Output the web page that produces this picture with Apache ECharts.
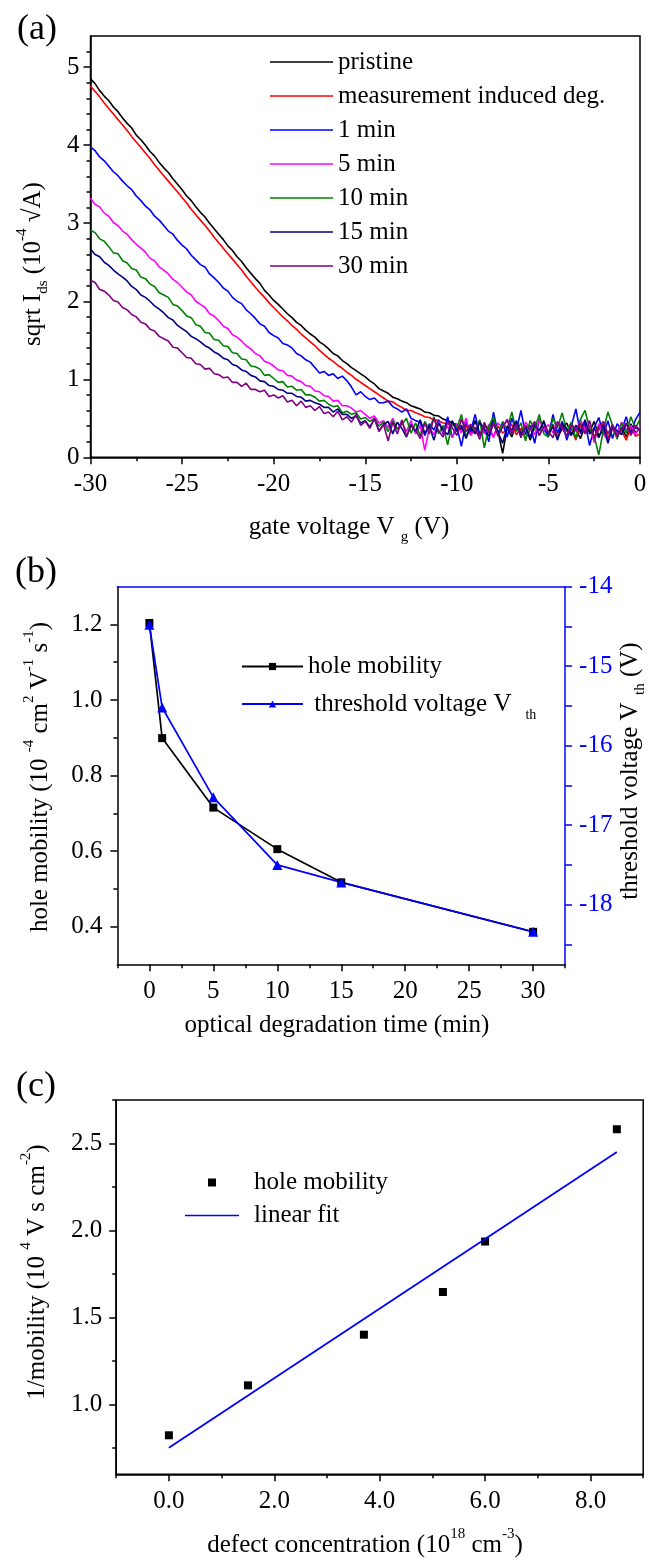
<!DOCTYPE html>
<html>
<head>
<meta charset="utf-8">
<script src="https://cdn.jsdelivr.net/npm/echarts@6.0.0/dist/echarts.min.js"></script>
<style>
html,body{margin:0;padding:0;background:#fff;}
#main{width:649px;height:1560px;}
</style>
</head>
<body>
<div id="main"></div>
<script>
var FONT = 'Liberation Serif';

// ---- panel (a): sqrt Ids vs gate voltage, sampled every 0.25 V from -30 V ----
var vgStart = -30, vgStep = 0.25;
var pristine = [
4.85,4.79,4.70,4.63, 4.57,4.49,4.43,4.35, 4.28,4.22,4.13,4.07, 4.00,3.92,3.86,3.78, 3.71,3.65,3.57,3.50,
3.43,3.35,3.29,3.21, 3.14,3.08,3.00,2.93, 2.86,2.79,2.71,2.65, 2.57,2.51,2.43,2.36, 2.29,2.23,2.14,2.08,
2.01,1.96,1.90,1.84, 1.79,1.73,1.69,1.63, 1.58,1.54,1.48,1.44, 1.39,1.33,1.30,1.24, 1.20,1.15,1.11,1.07,
1.03,0.98,0.94,0.88, 0.85,0.82,0.77,0.75, 0.72,0.70,0.66,0.64, 0.62,0.58,0.57,0.54, 0.53,0.49,0.47,0.44,
0.42,0.36,0.44,0.31, 0.47,0.29,0.40,0.35, 0.48,0.33,0.05,0.38, 0.26,0.45,0.30,0.41, 0.22,0.39,0.34,0.47,
0.28,0.42,0.25,0.37, 0.44,0.30,0.36,0.24, 0.40,0.33,0.46,0.27, 0.35,0.22,0.41,0.30, 0.38,0.26,0.43,0.32,
0.36];
var measDeg = [
4.76,4.69,4.62,4.54, 4.47,4.40,4.33,4.26, 4.19,4.11,4.04,3.97, 3.90,3.83,3.75,3.68, 3.61,3.54,3.47,3.40,
3.33,3.26,3.18,3.11, 3.04,2.97,2.90,2.82, 2.75,2.68,2.61,2.54, 2.47,2.40,2.32,2.25, 2.18,2.11,2.05,1.98,
1.92,1.86,1.80,1.75, 1.69,1.64,1.58,1.53, 1.48,1.43,1.37,1.32, 1.27,1.23,1.18,1.14, 1.09,1.05,1.00,0.96,
0.92,0.88,0.84,0.80, 0.76,0.72,0.71,0.67, 0.64,0.60,0.60,0.57, 0.55,0.52,0.51,0.48, 0.47,0.44,0.43,0.41,
0.40,0.34,0.41,0.30, 0.38,0.28,0.43,0.33, 0.27,0.40,0.31,0.36, 0.42,0.29,0.37,0.24, 0.35,0.44,0.28,0.39,
0.31,0.40,0.26,0.42, 0.33,0.37,0.22,0.41, 0.30,0.38,0.27,0.35, 0.43,0.25,0.36,0.29, 0.34,0.22,0.39,0.27,
0.30];
var min1 = [
3.98,3.93,3.85,3.80, 3.73,3.66,3.61,3.54, 3.48,3.43,3.35,3.29, 3.22,3.17,3.09,3.04, 2.97,2.90,2.86,2.78,
2.72,2.67,2.59,2.53, 2.47,2.44,2.35,2.30, 2.24,2.17,2.13,2.05, 2.00,1.97,1.89,1.84, 1.78,1.71,1.68,1.60,
1.56,1.53,1.46,1.44, 1.40,1.33,1.30,1.25, 1.22,1.15,1.08,1.10, 1.05,1.07,1.01,1.04, 0.98,0.90,0.80,0.84,
0.78,0.74,0.76,0.70, 0.70,0.72,0.65,0.62, 0.58,0.62,0.50,0.47, 0.45,0.28,0.43,0.35, 0.48,0.30,0.52,0.25,
0.40,0.14,0.45,0.33, 0.55,0.28,0.37,0.20, 0.58,0.31,0.44,0.26, 0.50,0.34,0.60,0.29, 0.41,0.18,0.49,0.36,
0.27,0.55,0.31,0.46, 0.22,0.40,0.62,0.30, 0.45,0.15,0.38,0.51, 0.29,0.47,0.24,0.43, 0.35,0.52,0.30,0.48,
0.58];
var min5 = [
3.32,3.24,3.21,3.13, 3.09,3.01,2.97,2.90, 2.86,2.79,2.73,2.68, 2.63,2.55,2.52,2.44, 2.40,2.35,2.28,2.24,
2.18,2.12,2.08,2.00, 1.96,1.92,1.84,1.81, 1.75,1.68,1.65,1.57, 1.54,1.49,1.43,1.39, 1.33,1.30,1.23,1.21,
1.17,1.12,1.11,1.05, 1.04,0.99,0.97,0.92, 0.91,0.85,0.84,0.79, 0.78,0.72,0.73,0.66, 0.66,0.63,0.58,0.60,
0.55,0.50,0.53,0.44, 0.47,0.38,0.50,0.36, 0.45,0.33,0.47,0.30, 0.41,0.09,0.38,0.29, 0.46,0.32,0.40,0.25,
0.43,0.31,0.50,0.28, 0.36,0.47,0.30,0.42, 0.25,0.44,0.38,0.49, 0.33,0.41,0.27,0.45, 0.38,0.29,0.48,0.35,
0.42,0.31,0.46,0.37, 0.28,0.44,0.33,0.48, 0.36,0.40,0.19,0.43, 0.30,0.21,0.38,0.32, 0.45,0.35,0.41,0.29,
0.40];
var min10 = [
2.91,2.88,2.80,2.77, 2.70,2.62,2.61,2.52, 2.49,2.42,2.40,2.31, 2.29,2.22,2.19,2.11, 2.08,2.05,1.96,1.94,
1.88,1.81,1.79,1.70, 1.68,1.60,1.59,1.51, 1.50,1.43,1.42,1.34, 1.33,1.26,1.25,1.17, 1.16,1.13,1.05,1.06,
1.01,0.96,0.97,0.90, 0.91,0.86,0.87,0.80, 0.80,0.77,0.72,0.73, 0.68,0.65,0.66,0.57, 0.59,0.55,0.57,0.49,
0.51,0.46,0.50,0.40, 0.45,0.33,0.47,0.36, 0.42,0.50,0.31,0.44, 0.27,0.46,0.35,0.52, 0.30,0.41,0.16,0.45,
0.38,0.55,0.26,0.42, 0.31,0.48,0.12,0.40, 0.52,0.29,0.46,0.35, 0.58,0.33,0.44,0.21, 0.47,0.36,0.55,0.30,
0.26,0.50,0.38,0.57, 0.34,0.45,0.24,0.49, 0.60,0.37,0.27,0.03, 0.35,0.58,0.41,0.23, 0.44,0.31,0.52,0.37,
0.49];
var min15 = [
2.67,2.60,2.57,2.50, 2.46,2.40,2.35,2.31, 2.26,2.19,2.15,2.08, 2.05,2.00,1.94,1.90, 1.85,1.79,1.76,1.69,
1.65,1.61,1.55,1.52, 1.48,1.43,1.40,1.35, 1.32,1.27,1.25,1.19, 1.17,1.12,1.10,1.05, 1.03,0.98,0.97,0.92,
0.91,0.87,0.86,0.82, 0.82,0.78,0.77,0.72, 0.73,0.70,0.68,0.64, 0.64,0.58,0.62,0.55, 0.55,0.50,0.53,0.44,
0.47,0.39,0.49,0.34, 0.42,0.46,0.30,0.45, 0.37,0.26,0.42,0.33, 0.48,0.31,0.40,0.22, 0.44,0.35,0.29,0.47,
0.33,0.41,0.24,0.39, 0.30,0.45,0.36,0.27, 0.43,0.32,0.18,0.40, 0.35,0.47,0.29,0.38, 0.26,0.42,0.34,0.45,
0.31,0.39,0.22,0.44, 0.36,0.28,0.41,0.33, 0.48,0.30,0.37,0.25, 0.42,0.18,0.39,0.34, 0.29,0.43,0.31,0.38,
0.35];
var min30 = [
2.27,2.24,2.15,2.13, 2.08,2.01,1.99,1.92, 1.89,1.83,1.80,1.73, 1.71,1.64,1.62,1.55, 1.52,1.49,1.41,1.40,
1.34,1.28,1.27,1.20, 1.19,1.13,1.14,1.07, 1.06,1.02,1.03,0.96, 0.96,0.91,0.95,0.87, 0.87,0.84,0.86,0.78,
0.80,0.76,0.79,0.71, 0.73,0.66,0.72,0.64, 0.66,0.60,0.65,0.56, 0.58,0.52,0.59,0.48, 0.52,0.45,0.55,0.41,
0.46,0.37,0.50,0.33, 0.42,0.21,0.45,0.30, 0.48,0.27,0.40,0.35, 0.24,0.44,0.30,0.50, 0.34,0.26,0.46,0.38,
0.28,0.49,0.33,0.42, 0.37,0.23,0.45,0.31, 0.44,0.27,0.39,0.48, 0.30,0.43,0.25,0.41, 0.36,0.46,0.28,0.40,
0.33,0.25,0.45,0.38, 0.27,0.42,0.35,0.44, 0.31,0.47,0.24,0.39, 0.46,0.30,0.42,0.26, 0.37,0.44,0.28,0.41,
0.33];
var curveNames = ['pristine', 'measurement induced deg.', '1 min', '5 min', '10 min', '15 min', '30 min'];
var curveColors = ['#000000', '#ff0000', '#0000ff', '#ff00ff', '#008000', '#000080', '#800080'];
var curveData = [pristine, measDeg, min1, min5, min10, min15, min30];
var aXTicks = [-30, -25, -20, -15, -10, -5, 0];
var aXMinor = [-27.5, -22.5, -17.5, -12.5, -7.5, -2.5];
var aYTicks = [0, 1, 2, 3, 4, 5];
var aYMinor = [0.2, 0.4, 0.6, 0.8, 1.2, 1.4, 1.6, 1.8, 2.2, 2.4, 2.6, 2.8, 3.2, 3.4, 3.6, 3.8, 4.2, 4.4, 4.6, 4.8, 5.2];

// ---- panel (b): mobility and threshold voltage vs degradation time ----
var degTime = [0, 1, 5, 10, 15, 30];
var holeMob = [1.204, 0.899, 0.715, 0.605, 0.517, 0.386];
var vth = [-14.48, -15.52, -16.65, -17.50, -17.72, -18.34];
var bXTicks = [0, 5, 10, 15, 20, 25, 30];
var bXMinor = [-2.5, 2.5, 7.5, 12.5, 17.5, 22.5, 27.5, 32.5];
var bYTicks = [0.4, 0.6, 0.8, 1.0, 1.2];
var bYMinor = [0.5, 0.7, 0.9, 1.1];
var bY2Ticks = [-18.5, -18, -17.5, -17, -16.5, -16, -15.5, -15, -14.5, -14];
var bY2Labels = [-18, -17, -16, -15, -14];

// ---- panel (c): 1/mobility vs defect concentration ----
var defectConc = [0, 1.5, 3.7, 5.2, 6.0, 8.5];
var invMob = [0.824, 1.111, 1.402, 1.647, 1.937, 2.582];
var fitX = [0, 8.5];
var fitY = [0.753, 2.452];
var cXTicks = [0, 2, 4, 6, 8];
var cXMinor = [-1, 1, 3, 5, 7, 9];
var cYTicks = [1.0, 1.5, 2.0, 2.5];
var cYMinor = [0.75, 1.25, 1.75, 2.25, 2.75];

function pairs(xs, ys) {
  var out = [];
  for (var i = 0; i < ys.length; i++) out.push([xs[i], ys[i]]);
  return out;
}
function fmt0(v) { return String(v); }
function fmt1(v) { return v.toFixed(1); }

// axis with long ticks + labels
function majorAxis(grid, pos, min, max, ticks, labels, fmt, color, margin) {
  return {
    type: 'value', gridIndex: grid, position: pos, min: min, max: max,
    axisLine: {show: true, onZero: false, lineStyle: {color: color, width: 1.5}},
    axisTick: {show: true, customValues: ticks, length: 7, lineStyle: {color: color, width: 1.5}},
    axisLabel: {show: true, customValues: labels, formatter: fmt, margin: margin, color: color, fontSize: 25, fontFamily: FONT},
    splitLine: {show: false}
  };
}
// same place, only the short ticks
function minorAxis(grid, pos, min, max, ticks, color) {
  return {
    type: 'value', gridIndex: grid, position: pos, min: min, max: max,
    axisLine: {show: false, onZero: false},
    axisTick: {show: true, customValues: ticks, length: 4, lineStyle: {color: color, width: 1.5}},
    axisLabel: {show: false},
    splitLine: {show: false}
  };
}

var series = [];
for (var k = 0; k < curveData.length; k++) {
  var pts = [];
  for (var i = 0; i < curveData[k].length; i++) pts.push([vgStart + i * vgStep, curveData[k][i]]);
  series.push({
    name: curveNames[k], type: 'line', xAxisIndex: 0, yAxisIndex: 0,
    data: pts, symbol: 'none', showSymbol: false,
    lineStyle: {color: curveColors[k], width: 1.6}, itemStyle: {color: curveColors[k]}
  });
}
series.push({
  name: 'hole mobility', type: 'line', xAxisIndex: 2, yAxisIndex: 2,
  data: pairs(degTime, holeMob), symbol: 'rect', symbolSize: 8,
  lineStyle: {color: '#000', width: 1.7}, itemStyle: {color: '#000'}
});
series.push({
  name: 'threshold voltage V_th', type: 'line', xAxisIndex: 2, yAxisIndex: 4,
  data: pairs(degTime, vth), symbol: 'triangle', symbolSize: 10,
  lineStyle: {color: '#0000ff', width: 1.7}, itemStyle: {color: '#0000ff'}
});
series.push({
  name: 'hole mobility ', type: 'scatter', xAxisIndex: 5, yAxisIndex: 5,
  data: pairs(defectConc, invMob), symbol: 'rect', symbolSize: 8,
  itemStyle: {color: '#000', opacity: 1}
});
series.push({
  name: 'linear fit', type: 'line', xAxisIndex: 5, yAxisIndex: 5,
  data: pairs(fitX, fitY), symbol: 'none', showSymbol: false,
  lineStyle: {color: '#0000ff', width: 1.8}, itemStyle: {color: '#0000ff'}
});

var RICH = {
  n: {fontSize: 25, fontFamily: FONT, lineHeight: 36, fill: '#000'},
  sup: {fontSize: 15, fontFamily: FONT, verticalAlign: 'top', fill: '#000'},
  sub: {fontSize: 15, fontFamily: FONT, verticalAlign: 'bottom', fill: '#000'}
};
function label(x, y, rot, text, size) {
  return {
    type: 'text', x: x, y: y, rotation: rot, silent: true,
    style: {
      text: text, rich: RICH, fill: '#000', fontSize: size, fontFamily: FONT,
      align: 'center', verticalAlign: 'middle', textAlign: 'center', textVerticalAlign: 'middle'
    }
  };
}
var UP = Math.PI / 2;

// plain line sample for legend entries of lines without markers
var LINE_ICON = 'path://M0,0L60,0L60,1.6L0,1.6Z';
var SQUARE_ICON = 'path://M0,0L10,0L10,10L0,10Z';

var legendText = {fontSize: 25, fontFamily: FONT, color: '#000', lineHeight: 25,
  rich: {
    n: {fontSize: 25, fontFamily: FONT, color: '#000', lineHeight: 36},
    s: {fontSize: 14, fontFamily: FONT, color: '#000', verticalAlign: 'bottom'}
  }
};

var option = {
  animation: false,
  backgroundColor: '#fff',
  textStyle: {fontFamily: FONT},
  grid: [
    {left: 90.5, top: 36, width: 549.5, height: 421.3, show: true, borderColor: '#000', borderWidth: 1.5, containLabel: false, outerBoundsMode: 'none'},
    {left: 117.4, top: 586.7, width: 447.7, height: 377.6, show: false, containLabel: false, outerBoundsMode: 'none'},
    {left: 116.2, top: 1100, width: 527, height: 374.3, show: true, borderColor: '#000', borderWidth: 1.5, containLabel: false, outerBoundsMode: 'none'}
  ],
  xAxis: [
    majorAxis(0, 'bottom', -30, 0, aXTicks, aXTicks, fmt0, '#000', 15),
    minorAxis(0, 'bottom', -30, 0, aXMinor, '#000'),
    majorAxis(1, 'bottom', -2.5, 32.5, bXTicks, bXTicks, fmt0, '#000', 15),
    minorAxis(1, 'bottom', -2.5, 32.5, bXMinor, '#000'),
    {type: 'value', gridIndex: 1, position: 'top', min: -2.5, max: 32.5,
      axisLine: {show: true, onZero: false, lineStyle: {color: '#0000ff', width: 1.5}},
      axisTick: {show: false}, axisLabel: {show: false}, splitLine: {show: false}},
    majorAxis(2, 'bottom', -1, 9, cXTicks, cXTicks, fmt1, '#000', 15),
    minorAxis(2, 'bottom', -1, 9, cXMinor, '#000')
  ],
  yAxis: [
    majorAxis(0, 'left', 0, 5.4, aYTicks, aYTicks, fmt0, '#000', 11),
    minorAxis(0, 'left', 0, 5.4, aYMinor, '#000'),
    majorAxis(1, 'left', 0.3, 1.3, bYTicks, bYTicks, fmt1, '#000', 15),
    minorAxis(1, 'left', 0.3, 1.3, bYMinor, '#000'),
    majorAxis(1, 'right', -18.75, -14, bY2Ticks, bY2Labels, fmt0, '#0000ff', 14),
    majorAxis(2, 'left', 0.6, 2.75, cYTicks, cYTicks, fmt1, '#000', 14),
    minorAxis(2, 'left', 0.6, 2.75, cYMinor, '#000')
  ],
  legend: [
    {data: curveNames.map(function (n) { return {name: n, icon: LINE_ICON}; }),
      orient: 'vertical', left: 270, top: 49.5, padding: 0,
      itemWidth: 63, itemHeight: 14, itemGap: 9, selectedMode: false, textStyle: legendText},
    {data: ['hole mobility', 'threshold voltage V_th'], orient: 'vertical', left: 241, top: 654, padding: 0,
      itemWidth: 61, itemHeight: 9, itemGap: 7, selectedMode: false, textStyle: legendText,
      formatter: function (name) {
        if (name === 'threshold voltage V_th') return ' {n|threshold voltage V}{s|    th}';
        return name;
      }},
    {data: [{name: 'hole mobility ', icon: SQUARE_ICON}, {name: 'linear fit', icon: LINE_ICON}], orient: 'vertical',
      left: 185, top: 1170, padding: 0, itemWidth: 54, itemHeight: 8, itemGap: 8, selectedMode: false,
      textStyle: {fontSize: 25, fontFamily: FONT, color: '#000', lineHeight: 25, padding: [0, 0, 0, 10]}}
  ],
  graphic: [
    label(37, 30, 0, '(a)', 36),
    label(36, 573, 0, '(b)', 36),
    label(36, 1087, 0, '(c)', 36),
    label(33, 264, UP, '{n|sqrt I}{sub|ds}{n| (10}{sup|-4}{n| \u221AA)}', 25),
    label(349, 527, 0, '{n|gate voltage V }{sub|g}{n| (V)}', 25),
    label(40, 777, UP, '{n|hole mobility (10 }{sup|-4}{n| cm}{sup|2}{n| V}{sup|-1}{n| s}{sup|-1}{n|)}', 25),
    label(630, 771, UP, '{n|threshold voltage V}{sub|  th}{n| (V)}', 25),
    label(337, 1025, 0, '{n|optical degradation time (min)}', 25),
    label(37, 1272, UP, '{n|1/mobility (10 }{sup|4}{n| V s cm}{sup|-2}{n|)}', 25),
    label(365, 1545, 0, '{n|defect concentration (10}{sup|18}{n| cm}{sup|-3}{n|)}', 25)
  ],
  series: series
};

var chart = echarts.init(document.getElementById('main'), null, {renderer: 'canvas'});
chart.setOption(option);
</script>
</body>
</html>
